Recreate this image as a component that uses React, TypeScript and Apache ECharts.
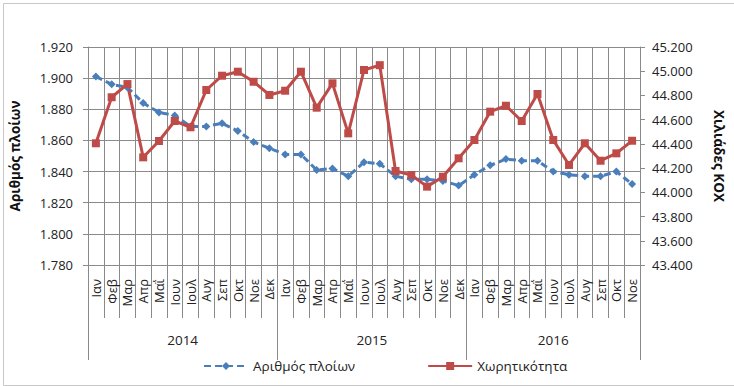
import React, { useEffect, useRef } from "react";
import * as echarts from "echarts";

const months = [
  "Ιαν", "Φεβ", "Μαρ", "Απρ", "Μαΐ", "Ιουν", "Ιουλ", "Αυγ", "Σεπ", "Οκτ", "Νοε", "Δεκ",
  "Ιαν", "Φεβ", "Μαρ", "Απρ", "Μαΐ", "Ιουν", "Ιουλ", "Αυγ", "Σεπ", "Οκτ", "Νοε", "Δεκ",
  "Ιαν", "Φεβ", "Μαρ", "Απρ", "Μαΐ", "Ιουν", "Ιουλ", "Αυγ", "Σεπ", "Οκτ", "Νοε",
];
const years = ["2014", "2015", "2016"];
const monthsPerYear = [12, 12, 11];

const shipCount = [
  1901, 1896, 1894, 1884, 1878, 1876, 1869, 1869, 1871, 1866, 1859, 1855,
  1851, 1851, 1841, 1842, 1837, 1846, 1845, 1837, 1835, 1835, 1834, 1831,
  1838, 1844, 1848, 1847, 1847, 1840, 1838, 1837, 1837, 1840, 1832,
];
const capacity = [
  44405, 44785, 44894, 44289, 44424, 44589, 44537, 44845, 44963, 44996, 44913, 44804,
  44839, 44996, 44699, 44900, 44487, 45010, 45050, 44176, 44143, 44047, 44129, 44281,
  44432, 44666, 44715, 44589, 44812, 44432, 44226, 44405, 44261, 44322, 44426,
];

const seriesNames = ["Αριθμός πλοίων", "Χωρητικότητα"];
const axisNames = ["Αριθμός πλοίων", "Χιλιάδες ΚΟΧ"];

const fmt = (v: number) =>
  Math.round(v).toString().replace(/\B(?=(\d{3})+(?!\d))/g, ".");

const FONT = "'Open Sans', 'Noto Sans', sans-serif";

export default function App() {
  const ref = useRef<HTMLDivElement>(null);
  useEffect(() => {
    if (!ref.current) return;
    const chart = echarts.init(ref.current, null, { renderer: "svg" });

    const bounds: number[] = [0];
    monthsPerYear.forEach((n) => bounds.push(bounds[bounds.length - 1] + n));
    const yearCenters = years.map((_, i) => (bounds[i] + bounds[i + 1]) / 2);
    const gridColor = "#8a8a8a";

    chart.setOption({
      animation: false,
      textStyle: { fontFamily: FONT },
      graphic: [
        {
          type: "rect",
          left: 1,
          top: 1,
          shape: { width: 731, height: 382 },
          style: { fill: "none", stroke: "#c8c8c8", lineWidth: 1 },
          silent: true,
        },
      ],
      grid: { left: 88, right: 91, top: 47, bottom: 121 },
      legend: {
        bottom: 8,
        left: 198,
        itemWidth: 44,
        itemHeight: 10,
        itemGap: 72,
        textStyle: { fontSize: 13.5, color: "#222", fontFamily: FONT },
        data: seriesNames,
      },
      xAxis: [
        {
          type: "category",
          data: months,
          boundaryGap: true,
          axisLine: { show: true, lineStyle: { color: gridColor } },
          axisTick: { show: true, interval: 0, length: 53, lineStyle: { color: gridColor } },
          axisLabel: {
            interval: 0,
            rotate: 90,
            margin: 14,
            fontSize: 13,
            color: "#222",
            fontFamily: FONT,
          },
          splitLine: { show: true, interval: 0, lineStyle: { color: gridColor } },
        },
        {
          type: "value",
          min: 0,
          max: bounds[bounds.length - 1],
          position: "bottom",
          axisLine: { show: false },
          splitLine: { show: false },
          axisTick: {
            show: true,
            customValues: bounds,
            length: 95,
            lineStyle: { color: gridColor },
          },
          axisLabel: {
            customValues: yearCenters,
            formatter: (v: number) => {
              const i = yearCenters.findIndex((c) => Math.abs(c - v) < 1e-6);
              return i >= 0 ? years[i] : "";
            },
            margin: 68,
            fontSize: 13.5,
            color: "#222",
            fontFamily: FONT,
          },
        },
      ],
      yAxis: [
        {
          type: "value",
          min: 1780,
          max: 1920,
          interval: 20,
          name: axisNames[0],
          nameLocation: "middle",
          nameGap: 66,
          nameTextStyle: { fontSize: 13.5, fontWeight: "bold", color: "#111", fontFamily: FONT },
          axisLine: { show: true, lineStyle: { color: gridColor } },
          axisTick: { show: true, length: 5, lineStyle: { color: gridColor } },
          axisLabel: { formatter: fmt, margin: 15, fontSize: 13, color: "#222", fontFamily: FONT },
          splitLine: { show: true, lineStyle: { color: gridColor } },
        },
        {
          type: "value",
          min: 43400,
          max: 45200,
          interval: 200,
          position: "right",
          name: axisNames[1],
          nameLocation: "middle",
          nameRotate: -90,
          nameGap: 72,
          nameTextStyle: { fontSize: 13.5, fontWeight: "bold", color: "#111", fontFamily: FONT },
          axisLine: { show: true, lineStyle: { color: gridColor } },
          axisTick: { show: true, length: 5, lineStyle: { color: gridColor } },
          axisLabel: { formatter: fmt, margin: 12, fontSize: 13, color: "#222", fontFamily: FONT },
          splitLine: { show: false },
        },
      ],
      series: [
        {
          name: seriesNames[0],
          type: "line",
          xAxisIndex: 0,
          yAxisIndex: 0,
          data: shipCount,
          symbol: "diamond",
          symbolSize: 8,
          itemStyle: { color: "#4a7ebb" },
          lineStyle: { color: "#4a7ebb", width: 3, type: [7, 4] },
        },
        {
          name: seriesNames[1],
          type: "line",
          xAxisIndex: 0,
          yAxisIndex: 1,
          data: capacity,
          symbol: "rect",
          symbolSize: 8,
          itemStyle: { color: "#be4b48" },
          lineStyle: { color: "#be4b48", width: 3 },
        },
      ],
    });
    return () => chart.dispose();
  }, []);
  return (
    <div
      ref={ref}
      style={{ position: "fixed", left: 0, top: 0, width: 734, height: 386, background: "#fff" }}
    />
  );
}
